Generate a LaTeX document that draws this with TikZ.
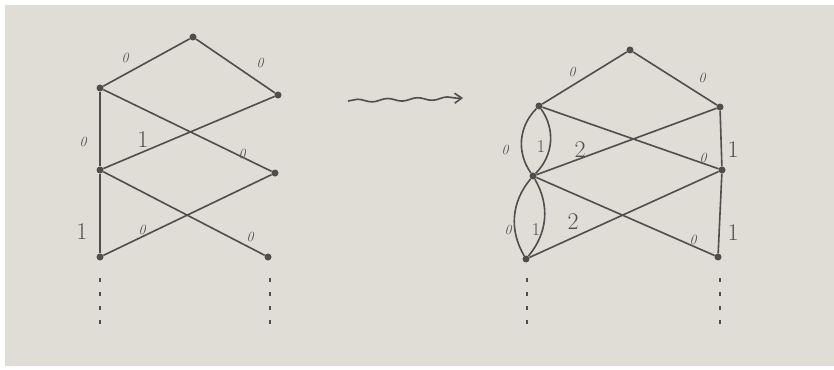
\documentclass[tikz,border=0pt]{standalone}
\usepackage{fontspec}
\usetikzlibrary{positioning,calc,arrows.meta,decorations.pathmorphing}
\definecolor{paper}{RGB}{224,220,214}
\definecolor{pencil}{RGB}{78,78,76}

\begin{document}
\begin{tikzpicture}[x=1pt,y=-1pt,
    dot/.style={circle,fill=pencil,inner sep=0pt,minimum size=7pt},
    edge/.style={pencil,line width=1.6pt},
    zlbl/.style={text=pencil,font=\fontsize{14}{14}\selectfont\itshape},
    nlbl/.style={text=pencil,font=\fontsize{24}{24}\selectfont}]
    % Papier
    \useasboundingbox (0,0) rectangle (834,369);
    \fill[white] (0,0) rectangle (834,369);
    \fill[paper] (5,5) rectangle (834,366);
    % linker Graph: Knoten
    \node[dot] (a0) at (193,37) {};
    \node[dot] (a1) at (100,88) {};
    \node[dot] (b1) at (278,95) {};
    \node[dot] (a2) at (100,170) {};
    \node[dot] (b2) at (275,173) {};
    \node[dot] (a3) at (100,257) {};
    \node[dot] (b3) at (268,257) {};
    % linker Graph: Kanten
    \draw[edge] (a0) -- (a1);
    \draw[edge] (a0) -- (b1);
    \draw[edge] (a1) -- (a2);
    \draw[edge] (a1) -- (b2);
    \draw[edge] (a2) -- (b1);
    \draw[edge] (a2) -- (a3);
    \draw[edge] (a2) -- (b3);
    \draw[edge] (a3) -- (b2);
    % linker Graph: Gewichte
    \node[zlbl] (wa01) at (125,58) {0};
    \node[zlbl] (wa0b) at (260,63) {0};
    \node[zlbl] (wa12) at (83,142) {0};
    \node[nlbl] (wa2b1) at (143,140) {1};
    \node[zlbl] (wa1b2) at (242,154) {0};
    \node[nlbl] (wa23) at (82,232) {1};
    \node[zlbl] (wa3b2) at (142,230) {0};
    \node[zlbl] (wa2b3) at (250,237) {0};
    % Fortsetzung
    \coordinate (a4s) at (100,278); \coordinate (a4e) at (100,332);
    \coordinate (b4s) at (270,278); \coordinate (b4e) at (270,332);
    \draw[edge,dash pattern=on 4pt off 10pt] (a4s) -- (a4e);
    \draw[edge,dash pattern=on 4pt off 10pt] (b4s) -- (b4e);

    % Wellenpfeil
    \coordinate (ws) at (348,101);
    \coordinate (we) at (463,98);
    \draw[edge,-{Straight Barb[length=7pt,width=10pt]},decorate,
        decoration={snake,amplitude=1.5pt,segment length=30pt,post length=5pt}] (ws) -- (we);

    % rechter Graph: Knoten
    \node[dot] (c0) at (630,50) {};
    \node[dot] (c1) at (539,106) {};
    \node[dot] (d1) at (720,107) {};
    \node[dot] (c2) at (533,176) {};
    \node[dot] (d2) at (722,170) {};
    \node[dot] (c3) at (526,259) {};
    \node[dot] (d3) at (718,257) {};
    % rechter Graph: Kanten
    \draw[edge] (c0) -- (c1);
    \draw[edge] (c0) -- (d1);
    \draw[edge] (c1) to[bend right=40] (c2);
    \draw[edge] (c1) to[bend left=40] (c2);
    \draw[edge] (c1) -- (d2);
    \draw[edge] (c2) -- (d1);
    \draw[edge] (c2) to[bend right=35] (c3);
    \draw[edge] (c2) to[bend left=35] (c3);
    \draw[edge] (c2) -- (d3);
    \draw[edge] (c3) -- (d2);
    \draw[edge] (d1) -- (d2);
    \draw[edge] (d2) -- (d3);
    % rechter Graph: Gewichte
    \node[zlbl] (wc01) at (572,72) {0};
    \node[zlbl] (wc0d) at (702,78) {0};
    \node[zlbl] (wc12o) at (505,150) {0};
    \node[nlbl,font=\fontsize{18}{18}\selectfont] (wc12i) at (541,147) {1};
    \node[nlbl] (wc2d1) at (580,150) {2};
    \node[zlbl] (wc1d2) at (703,158) {0};
    \node[nlbl] (wd12) at (733,150) {1};
    \node[zlbl] (wc23o) at (508,230) {0};
    \node[nlbl,font=\fontsize{18}{18}\selectfont] (wc23i) at (536,230) {1};
    \node[nlbl] (wc3d2) at (573,222) {2};
    \node[zlbl] (wc2d3) at (693,240) {0};
    \node[nlbl] (wd23) at (733,233) {1};
    % Fortsetzung
    \coordinate (c4s) at (527,278); \coordinate (c4e) at (527,332);
    \coordinate (d4s) at (720,278); \coordinate (d4e) at (720,332);
    \draw[edge,dash pattern=on 4pt off 10pt] (c4s) -- (c4e);
    \draw[edge,dash pattern=on 4pt off 10pt] (d4s) -- (d4e);
\end{tikzpicture}
\end{document}
